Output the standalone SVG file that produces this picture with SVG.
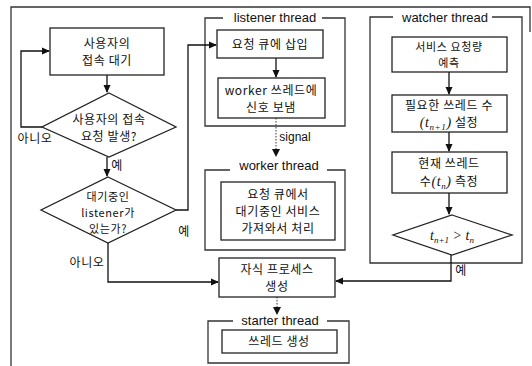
<svg xmlns="http://www.w3.org/2000/svg" width="532" height="366" viewBox="0 0 532 366">
<style>
.box{fill:#fff;stroke:#222;stroke-width:1.3}
.frame{fill:none;stroke:#333;stroke-width:1.3}
.ln{fill:none;stroke:#111;stroke-width:1.3}
.dot{fill:none;stroke:#555;stroke-width:1.2;stroke-dasharray:1.5 1.5}
.kt{font-family:"Noto Sans CJK KR","Noto Sans",sans-serif;font-size:12px;letter-spacing:0.6px;fill:#111;text-anchor:middle}
.sm{font-size:11px}
.lbl{font-family:"Liberation Sans","Noto Sans CJK KR",sans-serif;font-size:13px;fill:#111;text-anchor:middle}
.m{font-family:"Liberation Serif",serif;font-style:italic;font-size:14px;fill:#111}
.s{font-size:9px}
</style>
<defs>
<marker id="ah" markerWidth="8" markerHeight="8" refX="7" refY="4" orient="auto" markerUnits="userSpaceOnUse">
<path d="M0,0.5 L8,4 L0,7.5 Z" fill="#111"/>
</marker>
</defs>

<path class="frame" d="M11,366 V7 H530 V32"/>

<g id="listener-frame">
<path class="frame" d="M223,18 H205 V126 H345 V18 H322"/>
<text class="lbl" x="275" y="22">listener thread</text>
</g>
<g id="worker-frame">
<path class="frame" d="M230,170 H205 V250 H345 V170 H327"/>
<text class="lbl" x="279" y="170">worker thread</text>
</g>
<g id="watcher-frame">
<path class="frame" d="M393,17 H370 V263 H522 V17 H492"/>
<text class="lbl" x="445" y="22">watcher thread</text>
</g>
<g id="starter-frame">
<path class="frame" d="M233,321 H208 V363 H349 V321 H327"/>
<text class="lbl" x="280" y="325">starter thread</text>
</g>

<g id="connectors">
<path class="ln" d="M107,75 V92" marker-end="url(#ah)"/>
<path class="ln" d="M42,127 H21 V51 H49" marker-end="url(#ah)"/>
<path class="ln" d="M107,157 V176" marker-end="url(#ah)"/>
<path class="ln" d="M176,210 H188 V45 H216" marker-end="url(#ah)"/>
<path class="ln" d="M108,243 V282 H218" marker-end="url(#ah)"/>
<path class="ln" d="M276,58 V77" marker-end="url(#ah)"/>
<path class="dot" d="M276,118 V150"/>
<path d="M272,149 L276,157 L280,149 Z" fill="#111"/>
<path class="ln" d="M449,72 V94" marker-end="url(#ah)"/>
<path class="ln" d="M449,132 V151" marker-end="url(#ah)"/>
<path class="ln" d="M449,193 V214" marker-end="url(#ah)"/>
<path class="ln" d="M451,255 V281 H336" marker-end="url(#ah)"/>
<path class="dot" d="M277,297 V308"/>
<path d="M273,307 L277,315 L281,307 Z" fill="#111"/>
<text class="kt" x="35" y="143">아니오</text>
<text class="kt" x="117" y="170">예</text>
<text class="kt" x="184" y="236">예</text>
<text class="kt" x="87" y="267">아니오</text>
<text class="kt" x="461" y="275">예</text>
<text class="lbl" x="295" y="141" style="font-size:12px">signal</text>
</g>

<g id="wait">
<rect class="box" x="50" y="28" width="114" height="47"/>
<text class="kt" x="107" y="48">사용자의</text>
<text class="kt" x="107" y="65">접속 대기</text>
</g>
<g id="decision-request">
<path class="box" d="M109,93 L176,127 L109,157 L42,127 Z"/>
<text class="kt" x="109" y="124">사용자의 접속</text>
<text class="kt" x="109" y="141">요청 발생?</text>
</g>
<g id="decision-listener">
<path class="box" d="M108,177 L176,210 L108,243 L41,210 Z"/>
<text class="kt sm" x="108" y="201">대기중인</text>
<text class="kt sm" x="108" y="217">listener가</text>
<text class="kt sm" x="108" y="233">있는가?</text>
</g>
<g id="enqueue">
<rect class="box" x="217" y="30" width="106" height="28"/>
<text class="kt" x="270" y="49">요청 큐에 삽입</text>
</g>
<g id="signal-worker">
<rect class="box" x="218" y="78" width="107" height="40"/>
<text class="kt" x="271" y="95">worker 쓰레드에</text>
<text class="kt" x="271" y="112">신호 보냄</text>
</g>
<g id="process">
<rect class="box" x="221" y="182" width="114" height="58"/>
<text class="kt" x="278" y="199">요청 큐에서</text>
<text class="kt" x="278" y="216">대기중인 서비스</text>
<text class="kt" x="278" y="233">가져와서 처리</text>
</g>
<g id="child">
<rect class="box" x="219" y="258" width="116" height="39"/>
<text class="kt" x="277" y="274">자식 프로세스</text>
<text class="kt" x="277" y="291">생성</text>
</g>
<g id="create-thread">
<rect class="box" x="222" y="330" width="115" height="23"/>
<text class="kt" x="279" y="346">쓰레드 생성</text>
</g>
<g id="predict">
<rect class="box" x="392" y="37" width="115" height="35"/>
<text class="kt sm" x="449" y="51">서비스 요청량</text>
<text class="kt sm" x="449" y="67">예측</text>
</g>
<g id="set-threads">
<rect class="box" x="392" y="95" width="115" height="37"/>
<text class="kt" x="449" y="110">필요한 쓰레드 수</text>
<text class="kt" x="449" y="127"><tspan class="m">(t</tspan><tspan class="m s" dy="3">n+1</tspan><tspan class="m" dy="-3">)</tspan> 설정</text>
</g>
<g id="measure">
<rect class="box" x="392" y="152" width="115" height="41"/>
<text class="kt" x="449" y="168">현재 쓰레드</text>
<text class="kt" x="449" y="186">수<tspan class="m">(t</tspan><tspan class="m s" dy="3">n</tspan><tspan class="m" dy="-3">)</tspan> 측정</text>
</g>
<g id="compare">
<path class="box" d="M452,215 L512,235 L452,255 L393,235 Z"/>
<text class="m" x="452" y="240" text-anchor="middle">t<tspan class="s" dy="3">n+1</tspan><tspan dy="-3"> &gt; t</tspan><tspan class="s" dy="3">n</tspan></text>
</g>
</svg>
